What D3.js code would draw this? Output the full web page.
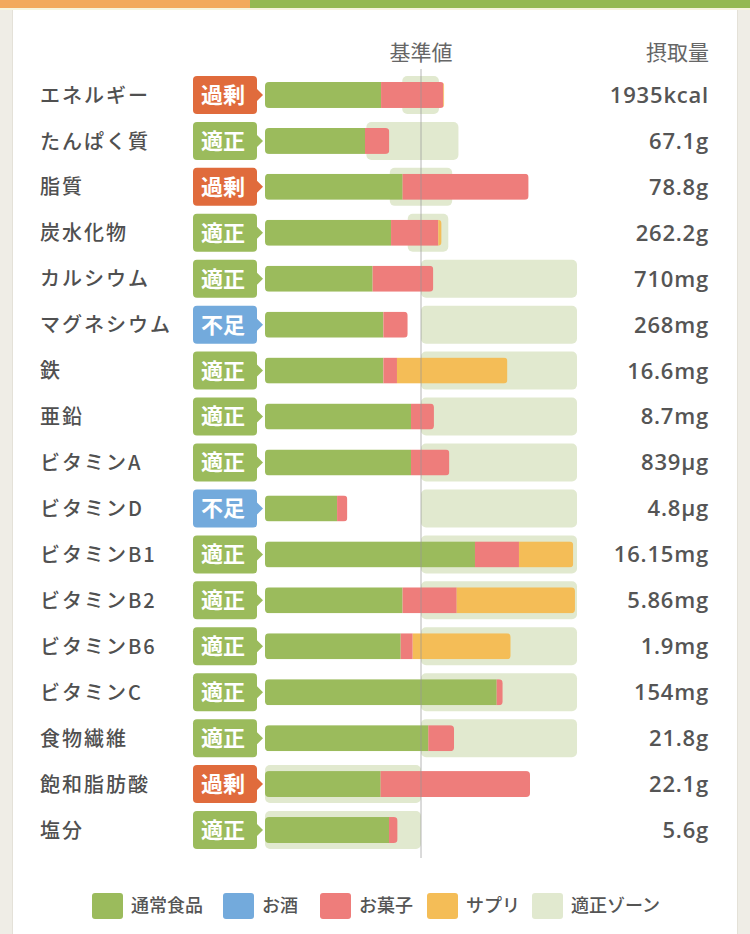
<!DOCTYPE html>
<html>
<head>
<meta charset="utf-8">
<script src="https://cdn.jsdelivr.net/npm/d3@7"></script>
<style>
  html, body { margin: 0; padding: 0; background: #efede6; }
  svg { display: block; font-family: "Noto Sans CJK JP", "Noto Sans", sans-serif; }
</style>
</head>
<body>
<div id="chart"></div>
<script>
// nutrient rows, top to bottom
const nutrients = ['エネルギー', 'たんぱく質', '脂質', '炭水化物', 'カルシウム', 'マグネシウム', '鉄', '亜鉛',
    'ビタミンA', 'ビタミンD', 'ビタミンB1', 'ビタミンB2', 'ビタミンB6', 'ビタミンC', '食物繊維', '飽和脂肪酸', '塩分'];
const status = ['過剰', '適正', '過剰', '適正', '適正', '不足', '適正', '適正',
    '適正', '不足', '適正', '適正', '適正', '適正', '適正', '過剰', '適正'];
const intake = ['1935kcal', '67.1g', '78.8g', '262.2g', '710mg', '268mg', '16.6mg', '8.7mg',
    '839µg', '4.8µg', '16.15mg', '5.86mg', '1.9mg', '154mg', '21.8g', '22.1g', '5.6g'];

// share of the reference value (%) by source
const foodPct   = [74.4, 64.1, 88.2, 80.8, 69.0, 75.9, 75.9, 93.6, 93.6, 46.2, 134.6, 88.2, 87.0, 148.5, 104.7, 74.1, 79.5];
const alcoholPct = [0, 0, 0, 0, 0, 0, 0, 0, 0, 0, 0, 0, 0, 0, 0, 0, 0];
const sweetsPct = [39.9, 15.6, 80.8, 30.3, 38.9, 15.6, 8.7, 14.7, 24.6, 6.6, 28.2, 34.7, 7.7, 3.9, 16.5, 95.8, 5.5];
const supplePct = [0.6, 0, 0, 2.1, 0, 0, 70.8, 0, 0, 0, 34.8, 75.8, 62.8, 0, 0, 0, 0];

// adequate zone (%)
const zoneLow  = [88, 65, 80, 91.5, 100, 100, 100, 100, 100, 100, 100, 100, 100, 100, 100, 0, 0];
const zoneHigh = [111.5, 124, 120, 117.5, 200, 200, 200, 200, 200, 200, 200, 200, 200, 200, 200, 100, 100];

const sources = ['通常食品', 'お酒', 'お菓子', 'サプリ'];
const legendLabels = ['通常食品', 'お酒', 'お菓子', 'サプリ', '適正ゾーン'];

const colors = {
    '通常食品': '#9bbb5c',
    'お酒': '#73aadc',
    'お菓子': '#ee7d7b',
    'サプリ': '#f4bd57',
    '適正ゾーン': '#e1e9cf'
};
const badgeColors = {'過剰': '#e06b3c', '適正': '#9bbb5c', '不足': '#73aadc'};

const width = 750, height = 934;

const svg = d3.select('#chart').append('svg')
    .attr('width', width)
    .attr('height', height);

// page frame: top stripe and white card
svg.append('rect').attr('x', 0).attr('y', 0).attr('width', width).attr('height', height).attr('fill', '#efede6');
svg.append('rect').attr('x', 12).attr('y', 9).attr('width', 726).attr('height', height).attr('fill', '#e4e1d8');
svg.append('rect').attr('x', 13).attr('y', 9).attr('width', 724).attr('height', height).attr('fill', '#ffffff');
svg.append('rect').attr('x', 0).attr('y', 8).attr('width', width).attr('height', 2).attr('fill', '#f6f4dc');
svg.append('rect').attr('x', 0).attr('y', 0).attr('width', 250).attr('height', 8).attr('fill', '#f2a95b');
svg.append('rect').attr('x', 250).attr('y', 0).attr('width', 500).attr('height', 8).attr('fill', '#94b951');

const x = d3.scaleLinear().domain([0, 200]).range([265, 577]);
const y = d3.scaleBand().domain(nutrients).range([72, 853]);
const mid = d => y(d) + y.bandwidth() / 2;

const rows = nutrients.map((name, i) => ({
    name: name,
    status: status[i],
    intake: intake[i],
    zone: [zoneLow[i], zoneHigh[i]],
    parts: [foodPct[i], alcoholPct[i], sweetsPct[i], supplePct[i]]
}));

// stack the sources along x
rows.forEach(r => {
    let acc = 0;
    r.segs = r.parts.map((v, k) => {
        const s = {key: sources[k], x0: acc, x1: acc + v};
        acc += v;
        return s;
    });
    r.total = acc;
});

// headers
svg.append('text')
    .attr('x', x(100)).attr('y', 60)
    .attr('text-anchor', 'middle')
    .attr('font-size', 21).attr('fill', '#666')
    .text('基準値');
svg.append('text')
    .attr('x', 709).attr('y', 60)
    .attr('text-anchor', 'end')
    .attr('font-size', 21).attr('fill', '#666')
    .text('摂取量');

const defs = svg.append('defs');
const barH = 26, zoneH = 38;

const row = svg.selectAll('.row')
    .data(rows)
    .enter().append('g')
    .attr('class', 'row');

// adequate zone behind bars
row.append('rect')
    .attr('x', d => x(d.zone[0]))
    .attr('y', d => mid(d.name) - zoneH / 2)
    .attr('width', d => x(d.zone[1]) - x(d.zone[0]))
    .attr('height', zoneH)
    .attr('rx', 5)
    .attr('fill', colors['適正ゾーン']);

// rounded clip for each stacked bar
defs.selectAll('clipPath')
    .data(rows)
    .enter().append('clipPath')
    .attr('id', (d, i) => 'bar-clip-' + i)
    .append('rect')
    .attr('x', x(0))
    .attr('y', d => mid(d.name) - barH / 2)
    .attr('width', d => x(d.total) - x(0))
    .attr('height', barH)
    .attr('rx', 4);

row.append('g')
    .attr('clip-path', (d, i) => `url(#bar-clip-${i})`)
    .selectAll('rect')
    .data(d => d.segs.filter(s => s.x1 > s.x0).map(s => Object.assign({name: d.name}, s)))
    .enter().append('rect')
    .attr('x', s => x(s.x0))
    .attr('y', s => mid(s.name) - barH / 2)
    .attr('width', s => x(s.x1) - x(s.x0))
    .attr('height', barH)
    .attr('fill', s => colors[s.key]);

// status badge with small arrow
row.append('rect')
    .attr('x', 193)
    .attr('y', d => mid(d.name) - 19)
    .attr('width', 64)
    .attr('height', 38)
    .attr('rx', 4)
    .attr('fill', d => badgeColors[d.status]);
row.append('path')
    .attr('d', d => {
        const c = mid(d.name);
        return `M256,${c - 7}L263,${c}L256,${c + 7}Z`;
    })
    .attr('fill', d => badgeColors[d.status]);
row.append('text')
    .attr('x', 223)
    .attr('y', d => mid(d.name))
    .attr('dy', '0.36em')
    .attr('text-anchor', 'middle')
    .attr('font-size', 22)
    .attr('font-weight', 700)
    .attr('fill', '#fff')
    .text(d => d.status);

// nutrient names
row.append('text')
    .attr('x', 40)
    .attr('y', d => mid(d.name))
    .attr('dy', '0.38em')
    .attr('font-size', 20)
    .attr('font-weight', 500)
    .attr('letter-spacing', 2)
    .attr('fill', '#505050')
    .text(d => d.name);

// intake values
row.append('text')
    .attr('x', 709)
    .attr('y', d => mid(d.name))
    .attr('dy', '0.36em')
    .attr('text-anchor', 'end')
    .attr('font-family', '"Open Sans", "Noto Sans", sans-serif')
    .attr('font-size', 22)
    .attr('font-weight', 600)
    .attr('letter-spacing', 0.8)
    .attr('fill', '#555')
    .text(d => d.intake);

// reference line at 100%
svg.append('line')
    .attr('x1', x(100)).attr('x2', x(100))
    .attr('y1', 69).attr('y2', 858)
    .attr('stroke', '#999')
    .attr('stroke-opacity', 0.7)
    .attr('stroke-width', 1);

// legend
const legendX = [92, 223, 320, 427, 532];
const legend = svg.selectAll('.legend')
    .data(legendLabels)
    .enter().append('g')
    .attr('class', 'legend')
    .attr('transform', (d, i) => `translate(${legendX[i]},893)`);

legend.append('rect')
    .attr('width', 31).attr('height', 26).attr('rx', 3)
    .attr('fill', d => colors[d]);
legend.append('text')
    .attr('x', 39).attr('y', 13)
    .attr('dy', '0.36em')
    .attr('font-size', 18)
    .attr('font-weight', 500)
    .attr('fill', '#555')
    .text(d => d);
</script>
</body>
</html>
